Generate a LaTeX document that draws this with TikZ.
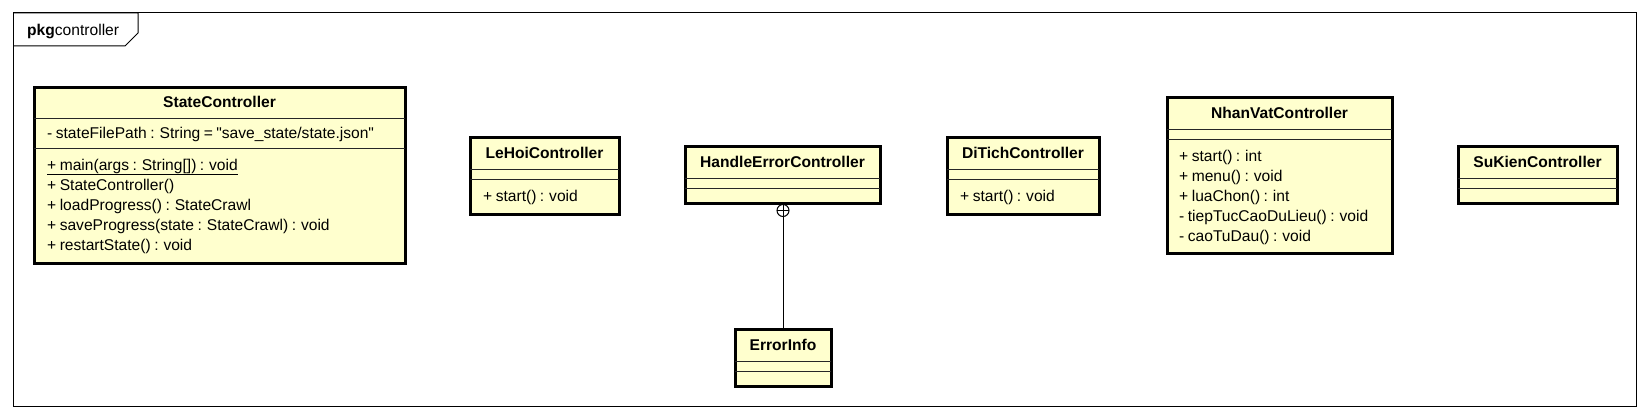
\documentclass[tikz,border=0pt]{standalone}
\usepackage{fontspec}
\setmainfont{Liberation Sans}[WordSpace=0.8]
\definecolor{umlfill}{RGB}{255,255,206}
\begin{document}
\begin{tikzpicture}[x=1pt,y=-1pt,
  classbox/.style={draw=black, line width=3pt, fill=umlfill, anchor=north west, inner sep=0pt, outer sep=0pt},
  sepline/.style={line width=1pt, draw=black!85},
  thinline/.style={line width=1pt, draw=black},
  ttl/.style={font=\fontsize{15.6}{18}\selectfont\bfseries, inner sep=0pt, anchor=center, text height=12pt, text depth=2pt},
  mem/.style={font=\fontsize{15.6}{18}\selectfont, inner sep=0pt, anchor=west, text height=12pt, text depth=2pt},
]
\useasboundingbox (0,0) rectangle (1649,420);

% package frame
\node[thinline, draw, anchor=north west, minimum width=1623pt, minimum height=393pt, inner sep=0pt, outer sep=0pt] (pkg) at (13,13) {};
\draw[thinline] (pkg.north west) -| (138,33) -- (125,46) -- (13,46);
\node[mem] (pkglabel) at (27,31) {\textbf{pkg}controller};

% StateController
\node[classbox, minimum width=371pt, minimum height=176pt] (sc) at (34,87) {};
\draw[sepline] (34,118) -- (405,118);
\draw[sepline] (34,148) -- (405,148);
\node[ttl] (sct) at (219.5,102.5) {StateController};
\node[mem] (sca) at (47,133) {- stateFilePath : String = \textquotedbl save\_state/state.json\textquotedbl};
\node[mem] (scm1) at (47,165) {\underline{+ main(args : String[]) : void}};
\node[mem] (scm2) at (47,185) {+ StateController()};
\node[mem] (scm3) at (47,205) {+ loadProgress() : StateCrawl};
\node[mem] (scm4) at (47,225) {+ saveProgress(state : StateCrawl) : void};
\node[mem] (scm5) at (47,245) {+ restartState() : void};

% LeHoiController
\node[classbox, minimum width=149pt, minimum height=77pt] (lh) at (470,137) {};
\draw[sepline] (470,169) -- (619,169);
\draw[sepline] (470,179) -- (619,179);
\node[ttl] (lht) at (544.5,153) {LeHoiController};
\node[mem] (lhm) at (483,196) {+ start() : void};

% HandleErrorController
\node[classbox, minimum width=195pt, minimum height=57pt] (hec) at (685,146) {};
\draw[sepline] (685,178) -- (880,178);
\draw[sepline] (685,188) -- (880,188);
\node[ttl] (hect) at (782.5,162) {HandleErrorController};

% ErrorInfo
\node[classbox, minimum width=96pt, minimum height=57pt] (ei) at (735,329) {};
\draw[sepline] (735,361) -- (831,361);
\draw[sepline] (735,371) -- (831,371);
\node[ttl] (eit) at (783,345) {ErrorInfo};

% nesting connector
\node[draw, circle, line width=1pt, minimum size=12pt, inner sep=0pt, outer sep=0pt] (nest) at (783,210.5) {};
\draw[thinline] (nest.north) -- (nest.south);
\draw[thinline] (nest.west) -- (nest.east);
\draw[thinline] (nest.south) -- (nest.south |- ei.north);

% DiTichController
\node[classbox, minimum width=152pt, minimum height=77pt] (dt) at (947,137) {};
\draw[sepline] (947,169) -- (1099,169);
\draw[sepline] (947,179) -- (1099,179);
\node[ttl] (dtt) at (1023,153) {DiTichController};
\node[mem] (dtm) at (960,196) {+ start() : void};

% NhanVatController
\node[classbox, minimum width=225pt, minimum height=156pt] (nv) at (1167,97) {};
\draw[sepline] (1167,129) -- (1392,129);
\draw[sepline] (1167,139) -- (1392,139);
\node[ttl] (nvt) at (1279.5,113) {NhanVatController};
\node[mem] (nvm1) at (1179,156) {+ start() : int};
\node[mem] (nvm2) at (1179,176) {+ menu() : void};
\node[mem] (nvm3) at (1179,196) {+ luaChon() : int};
\node[mem] (nvm4) at (1179,216) {- tiepTucCaoDuLieu() : void};
\node[mem] (nvm5) at (1179,236) {- caoTuDau() : void};

% SuKienController
\node[classbox, minimum width=159pt, minimum height=57pt] (sk) at (1458,146) {};
\draw[sepline] (1458,178) -- (1617,178);
\draw[sepline] (1458,188) -- (1617,188);
\node[ttl] (skt) at (1537.5,162) {SuKienController};
\end{tikzpicture}
\end{document}
